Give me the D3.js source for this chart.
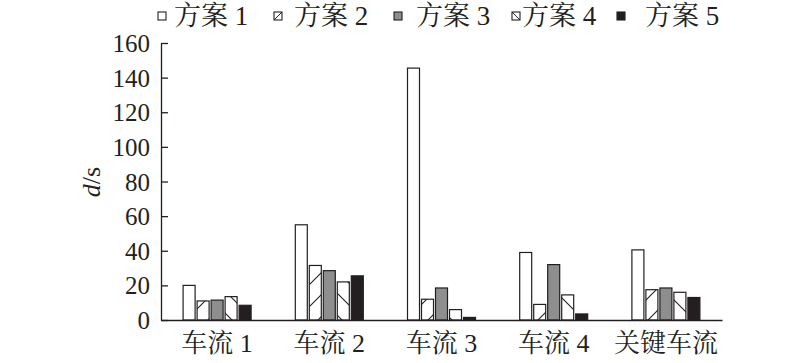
<!DOCTYPE html>
<html>
<head>
<meta charset="utf-8">
<script src="https://cdn.jsdelivr.net/npm/d3@7"></script>
<style>
  html, body { margin: 0; padding: 0; background: #fff; }
  svg text { font-family: "Liberation Serif", "Noto Serif CJK SC", "Noto Sans CJK SC", serif; fill: #231f20; }
</style>
</head>
<body>
<svg id="chart" width="800" height="363"></svg>
<script>
const categories = ['车流 1', '车流 2', '车流 3', '车流 4', '关键车流']
const series = ['方案 1', '方案 2', '方案 3', '方案 4', '方案 5']
const plan1 = [20, 55, 145.5, 39, 40.5]
const plan2 = [11, 31.5, 12, 9, 17.5]
const plan3 = [11.5, 28.5, 18.5, 32, 18.5]
const plan4 = [13.5, 22, 6, 14.5, 16]
const plan5 = [8.5, 25.5, 1.5, 3.5, 13]
const values = [plan1, plan2, plan3, plan4, plan5]
const yTicks = [0, 20, 40, 60, 80, 100, 120, 140, 160]

// fill style per series
const FILLS = ['#fff', 'url(#hatchUp)', '#8e8e8e', 'url(#hatchDown)', '#231f20']
const HATCH = [null, 'up', null, 'down', null]
// legend layout: square x and text x for each item
const LEGEND_SQ = [158, 274, 394, 512, 617]
const LEGEND_TX = [174, 294, 416, 522, 645]

const svg = d3.select('#chart')
const margin = { left: 161, right: 78, top: 43, bottom: 43 }
const W = 800, H = 363

const x0 = d3.scaleBand().domain(categories).range([margin.left, W - margin.right])
const x1 = d3.scaleBand().domain(series)
  .range([x0.bandwidth() / 2 - 34, x0.bandwidth() / 2 + 34])
  .paddingInner(2 / 14)
const y = d3.scaleLinear().domain([0, 160]).range([H - margin.bottom, margin.top])

const defs = svg.append('defs')
const addHatch = (id, d) => {
  defs.append('pattern')
    .attr('id', id)
    .attr('patternUnits', 'userSpaceOnUse')
    .attr('width', 22).attr('height', 22)
    .append('path')
    .attr('d', d)
    .attr('stroke', '#231f20')
    .attr('stroke-width', 1.1)
    .attr('fill', 'none')
}
addHatch('hatchUp', 'M0,22L22,0M-2,2L2,-2M20,24L24,20')
addHatch('hatchDown', 'M0,0L22,22M-2,20L2,24M20,-2L24,2')

// bars (absolute coords so hatch tiles line up)
svg.append('g')
  .selectAll('rect')
  .data(categories.flatMap((c, ci) => series.map((s, si) => ({ c, s, si, v: values[si][ci] }))))
  .join('rect')
  .attr('x', d => x0(d.c) + x1(d.s))
  .attr('y', d => y(d.v))
  .attr('width', x1.bandwidth())
  .attr('height', d => y(0) - y(d.v))
  .attr('fill', d => FILLS[d.si])
  .attr('stroke', '#231f20')
  .attr('stroke-width', 1.2)

// y axis
const gy = svg.append('g')
  .attr('transform', `translate(${margin.left},0)`)
  .call(d3.axisLeft(y).tickValues(yTicks).tickSizeInner(-7).tickSizeOuter(0).tickPadding(11))
gy.selectAll('path, line').attr('stroke', '#231f20').attr('stroke-width', 1.3)
gy.selectAll('text').attr('font-size', 25).attr('font-family', null).attr('fill', '#231f20').attr('dy', '0.34em')

// x axis
const gx = svg.append('g')
  .attr('transform', `translate(0,${y(0)})`)
  .call(d3.axisBottom(x0).tickSize(0).tickPadding(32))
gx.selectAll('path').attr('stroke', '#231f20').attr('stroke-width', 1.3)
gx.selectAll('text').attr('font-size', 26).attr('font-family', null).attr('fill', '#231f20').attr('dy', 0)

// y title
svg.append('text')
  .attr('transform', 'translate(100,182) rotate(-90)')
  .attr('text-anchor', 'middle')
  .attr('font-size', 26)
  .html('<tspan font-style="italic">d</tspan>/s')

// legend
const lg = svg.append('g')
  .selectAll('g')
  .data(series)
  .join('g')
lg.append('rect')
  .attr('x', (d, i) => LEGEND_SQ[i]).attr('y', 12)
  .attr('width', 8).attr('height', 8)
  .attr('fill', (d, i) => HATCH[i] ? '#fff' : FILLS[i])
  .attr('stroke', '#231f20').attr('stroke-width', 1.1)
lg.filter((d, i) => HATCH[i]).append('line')
  .attr('x1', d => LEGEND_SQ[series.indexOf(d)])
  .attr('x2', d => LEGEND_SQ[series.indexOf(d)] + 8)
  .attr('y1', d => HATCH[series.indexOf(d)] === 'up' ? 20 : 12)
  .attr('y2', d => HATCH[series.indexOf(d)] === 'up' ? 12 : 20)
  .attr('stroke', '#231f20').attr('stroke-width', 1)
lg.append('text')
  .attr('x', (d, i) => LEGEND_TX[i]).attr('y', 25)
  .attr('font-size', 27)
  .text(d => d)
</script>
</body>
</html>
